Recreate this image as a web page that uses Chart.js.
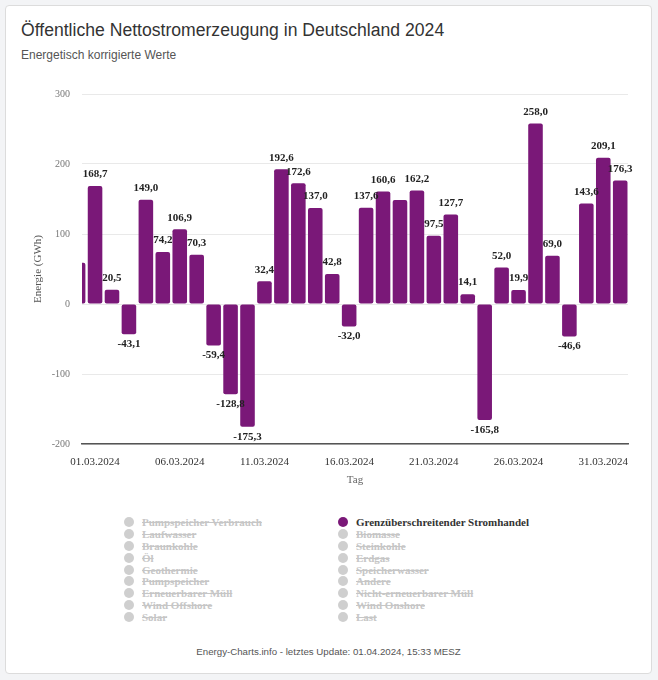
<!DOCTYPE html>
<html>
<head>
<meta charset="utf-8">
<script src="https://cdn.jsdelivr.net/npm/chart.js@4.4.1/dist/chart.umd.min.js"></script>
<style>
  body { margin: 0; background: #f3f4f6; }
  .karte {
    position: absolute; left: 5px; top: 5px; width: 645px; height: 667px;
    background: #fff; border: 1px solid #dcdcdc; border-radius: 4px;
  }
  .titel {
    position: absolute; left: 15px; top: 14px;
    font: 17.6px "Liberation Sans", Arial, sans-serif; color: #333;
  }
  .untertitel {
    position: absolute; left: 15px; top: 42px;
    font: 12px "Liberation Sans", Arial, sans-serif; color: #555;
  }
  .diagramm { position: absolute; left: 15px; top: 79px; width: 612px; height: 410px; }
  .legende {
    position: absolute; left: 118px; top: 510px;
    display: grid; grid-template-rows: repeat(9, 11.9px); grid-auto-flow: column;
    grid-template-columns: 214px 214px;
    font: bold 11px "Liberation Serif", serif;
  }
  .legende div { display: flex; align-items: center; white-space: nowrap; }
  .legende span.punkt {
    width: 10px; height: 10px; border-radius: 50%; background: #cfcfcf;
    margin-right: 8px; flex: none;
  }
  .legende div.aus { color: #c6c6c6; text-decoration: line-through; }
  .legende div.an { color: #333; }
  .legende div.an span.punkt { background: #7a1878; }
  .fuss {
    position: absolute; left: 0; width: 645px; top: 640px; text-align: center;
    font: 9.7px "Liberation Sans", Arial, sans-serif; color: #555;
  }
</style>
</head>
<body>
<div class="karte">
  <div class="titel">Öffentliche Nettostromerzeugung in Deutschland 2024</div>
  <div class="untertitel">Energetisch korrigierte Werte</div>
  <div class="diagramm"><canvas id="chart"></canvas></div>
  <div class="legende" id="legende"></div>
  <div class="fuss">Energy-Charts.info - letztes Update: 01.04.2024, 15:33 MESZ</div>
</div>
<script>
// Tage (29.02. bis 01.04.)
const tage = [
  "29.02.2024",
  "01.03.2024", "02.03.2024", "03.03.2024", "04.03.2024", "05.03.2024",
  "06.03.2024", "07.03.2024", "08.03.2024", "09.03.2024", "10.03.2024",
  "11.03.2024", "12.03.2024", "13.03.2024", "14.03.2024", "15.03.2024",
  "16.03.2024", "17.03.2024", "18.03.2024", "19.03.2024", "20.03.2024",
  "21.03.2024", "22.03.2024", "23.03.2024", "24.03.2024", "25.03.2024",
  "26.03.2024", "27.03.2024", "28.03.2024", "29.03.2024", "30.03.2024",
  "31.03.2024", "01.04.2024"
];

// Grenzüberschreitender Stromhandel, GWh
const stromhandel = [
  58.9,
  168.7, 20.5, -43.1, 149.0, 74.2,
  106.9, 70.3, -59.4, -128.8, -175.3,
  32.4, 192.6, 172.6, 137.0, 42.8,
  -32.0, 137.6, 160.6, 148.6, 162.2,
  97.5, 127.7, 14.1, -165.8, 52.0,
  19.9, 258.0, 69.0, -46.6, 143.6,
  209.1, 176.3
];

const tickTage = ["01.03.2024", "06.03.2024", "11.03.2024", "16.03.2024", "21.03.2024", "26.03.2024", "31.03.2024"];
const yTicks = [-200, -100, 0, 100, 200, 300];

const reihen = [
  "Pumpspeicher Verbrauch", "Laufwasser", "Braunkohle", "Öl", "Geothermie",
  "Pumpspeicher", "Erneuerbarer Müll", "Wind Offshore", "Solar",
  "Grenzüberschreitender Stromhandel", "Biomasse", "Steinkohle", "Erdgas",
  "Speicherwasser", "Andere", "Nicht-erneuerbarer Müll", "Wind Onshore", "Last"
];
const aktiv = ["Grenzüberschreitender Stromhandel"];

// ---------- Legende ----------
const legende = document.getElementById("legende");
reihen.forEach(name => {
  const el = document.createElement("div");
  el.className = aktiv.includes(name) ? "an" : "aus";
  el.innerHTML = '<span class="punkt"></span>' + name;
  legende.appendChild(el);
});

// ---------- Werte über den Balken ----------
const wertLabels = {
  id: "wertLabels",
  afterDatasetsDraw(chart) {
    const ctx = chart.ctx;
    const area = chart.chartArea;
    const meta = chart.getDatasetMeta(0);
    const belegt = [];
    ctx.save();
    ctx.font = "bold 11px 'Liberation Serif', serif";
    ctx.fillStyle = "#222";
    ctx.textAlign = "center";
    ctx.textBaseline = "middle";
    meta.data.forEach((bar, i) => {
      if (bar.x < area.left || bar.x > area.right) return;
      const v = stromhandel[i];
      const text = v.toFixed(1).replace(".", ",");
      const y = v >= 0 ? bar.y - 11.5 : bar.y + 10;
      const w = ctx.measureText(text).width;
      const box = { l: bar.x - w / 2, r: bar.x + w / 2, t: y - 5, b: y + 5 };
      const kollidiert = belegt.some(o => box.l < o.r && box.r > o.l && box.t < o.b && box.b > o.t);
      if (kollidiert) return;
      belegt.push(box);
      ctx.fillText(text, bar.x, y);
    });
    ctx.restore();
  }
};

new Chart(document.getElementById("chart"), {
  type: "bar",
  data: {
    datasets: [{
      label: "Grenzüberschreitender Stromhandel",
      data: stromhandel.map((v, i) => ({ x: i, y: v })),
      backgroundColor: "#7a1878",
      borderRadius: 2,
      borderSkipped: false,
      barPercentage: 0.86,
      categoryPercentage: 1,
      clip: 0
    }]
  },
  options: {
    responsive: true,
    maintainAspectRatio: false,
    animation: false,
    layout: { padding: { top: 9, right: 5, left: 0, bottom: 0 } },
    plugins: {
      legend: { display: false },
      tooltip: { enabled: false }
    },
    scales: {
      x: {
        type: "linear",
        offset: false,
        min: 0.23,
        max: 32.46,
        afterBuildTicks: scale => {
          scale.ticks = tickTage.map(t => ({ value: tage.indexOf(t) }));
        },
        afterFit: scale => {
          scale.height = 51;
          scale.paddingLeft = 0;
          scale.paddingRight = 0;
        },
        grid: { display: false, drawTicks: false, offset: false },
        border: { color: "#555", width: 1.5 },
        ticks: {
          autoSkip: false,
          maxRotation: 0,
          padding: 12,
          color: "#333",
          font: { family: "'Liberation Serif', serif", size: 11 },
          callback: v => tage[v]
        },
        title: {
          display: true,
          text: "Tag",
          color: "#666",
          padding: { top: 2, bottom: 8 },
          font: { family: "'Liberation Serif', serif", size: 11 }
        }
      },
      y: {
        min: -200,
        max: 300,
        afterBuildTicks: scale => {
          scale.ticks = yTicks.map(v => ({ value: v }));
        },
        afterFit: scale => {
          scale.width = 61;
          scale.paddingTop = 0;
          scale.paddingBottom = 0;
        },
        grid: { color: "#e9e9e9", drawTicks: false },
        border: { display: false },
        ticks: {
          padding: 12,
          color: "#777",
          font: { family: "'Liberation Serif', serif", size: 10 }
        },
        title: {
          display: true,
          text: "Energie (GWh)",
          color: "#555",
          padding: { top: 11, bottom: 0 },
          font: { family: "'Liberation Serif', serif", size: 11 }
        }
      }
    }
  },
  plugins: [wertLabels]
});
</script>
</body>
</html>
